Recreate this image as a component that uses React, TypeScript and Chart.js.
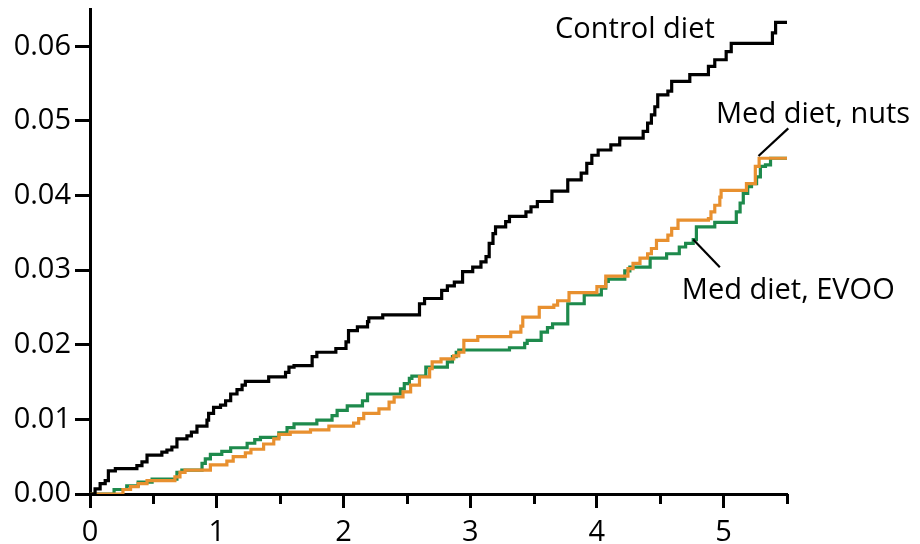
import React, { useEffect, useRef } from "react";
import { Chart, registerables } from "chart.js";

Chart.register(...registerables);

// [years, cumulative incidence] at each step
const controlSteps: [number, number][] = [
  [0, 0], [0.04, 0.0007], [0.08, 0.0014], [0.12, 0.0018], [0.145, 0.0031], [0.2, 0.0034],
  [0.37, 0.0038], [0.41, 0.0043], [0.45, 0.0052], [0.567, 0.0056], [0.607, 0.0059], [0.646, 0.0063],
  [0.686, 0.0074], [0.765, 0.0078], [0.8, 0.0083], [0.844, 0.0091], [0.923, 0.0099], [0.936, 0.0108],
  [0.975, 0.0116], [1.03, 0.0119], [1.07, 0.0125], [1.11, 0.0134], [1.16, 0.014], [1.2, 0.0146],
  [1.226, 0.0151], [1.41, 0.0157], [1.543, 0.0163], [1.57, 0.017], [1.61, 0.0172], [1.753, 0.0184],
  [1.79, 0.019], [1.94, 0.0195], [2.02, 0.0204], [2.04, 0.0219], [2.11, 0.0224], [2.19, 0.0231],
  [2.2, 0.0236], [2.31, 0.024], [2.6, 0.0255], [2.64, 0.0262], [2.775, 0.0273], [2.82, 0.0279],
  [2.875, 0.0284], [2.94, 0.0298], [3.02, 0.0304], [3.085, 0.0311], [3.125, 0.0318], [3.15, 0.0336],
  [3.18, 0.0349], [3.2, 0.0358], [3.28, 0.0365], [3.31, 0.0372], [3.44, 0.0378], [3.48, 0.0385],
  [3.53, 0.0392], [3.645, 0.0406], [3.77, 0.0421], [3.876, 0.043], [3.92, 0.0443], [3.96, 0.0454],
  [4.01, 0.0461], [4.11, 0.0468], [4.18, 0.0477], [4.365, 0.0486], [4.4, 0.0497], [4.43, 0.0508],
  [4.457, 0.0519], [4.48, 0.0535], [4.56, 0.054], [4.59, 0.0553], [4.733, 0.0562], [4.88, 0.0573],
  [4.93, 0.0582], [5.02, 0.0593], [5.06, 0.0604], [5.385, 0.0618], [5.41, 0.0632], [5.5, 0.0632],
];

const nutsSteps: [number, number][] = [
  [0, 0], [0.26, 0.0006], [0.32, 0.001], [0.38, 0.0014], [0.45, 0.0018], [0.67, 0.0023],
  [0.71, 0.0029], [0.75, 0.0032], [0.95, 0.0039], [1.08, 0.0044], [1.13, 0.005], [1.226, 0.0055],
  [1.27, 0.006], [1.37, 0.0067], [1.45, 0.0074], [1.49, 0.008], [1.58, 0.0083], [1.74, 0.0086],
  [1.885, 0.0091], [2.08, 0.0095], [2.12, 0.0101], [2.16, 0.0108], [2.28, 0.0114], [2.36, 0.0123],
  [2.4, 0.013], [2.47, 0.0137], [2.53, 0.0146], [2.6, 0.0157], [2.68, 0.0168], [2.7, 0.0177],
  [2.77, 0.0181], [2.87, 0.0185], [2.91, 0.019], [2.95, 0.0206], [3.06, 0.0211], [3.32, 0.0217],
  [3.4, 0.0225], [3.415, 0.0237], [3.545, 0.025], [3.66, 0.0253], [3.69, 0.0259], [3.78, 0.027],
  [4.0, 0.0278], [4.07, 0.0292], [4.245, 0.0302], [4.285, 0.0309], [4.34, 0.0316], [4.4, 0.0322],
  [4.43, 0.0329], [4.47, 0.034], [4.56, 0.0347], [4.59, 0.0356], [4.64, 0.0367], [4.88, 0.0369],
  [4.9, 0.0378], [4.93, 0.0387], [4.97, 0.0398], [4.98, 0.0407], [5.18, 0.0416], [5.25, 0.0439],
  [5.28, 0.045], [5.5, 0.045],
];

const evooSteps: [number, number][] = [
  [0, 0], [0.19, 0.0006], [0.29, 0.0011], [0.38, 0.0016], [0.49, 0.002], [0.686, 0.0029],
  [0.725, 0.0032], [0.884, 0.0041], [0.91, 0.0047], [0.95, 0.0053], [1.04, 0.0057], [1.11, 0.0062],
  [1.24, 0.0068], [1.3, 0.0073], [1.345, 0.0076], [1.49, 0.0082], [1.555, 0.0089], [1.61, 0.0094],
  [1.79, 0.0099], [1.91, 0.0105], [1.95, 0.0112], [2.03, 0.0118], [2.15, 0.0125], [2.19, 0.0134],
  [2.45, 0.0141], [2.48, 0.0148], [2.52, 0.0155], [2.54, 0.0158], [2.65, 0.017], [2.82, 0.0177],
  [2.86, 0.0184], [2.89, 0.019], [2.91, 0.0193], [3.31, 0.0196], [3.43, 0.0202], [3.45, 0.0206],
  [3.56, 0.0217], [3.61, 0.0223], [3.65, 0.0228], [3.77, 0.0255], [3.9, 0.0267], [4.035, 0.0276],
  [4.07, 0.0285], [4.09, 0.0288], [4.22, 0.0299], [4.26, 0.0304], [4.42, 0.0316], [4.55, 0.0322],
  [4.65, 0.0331], [4.7, 0.0336], [4.76, 0.0341], [4.785, 0.0358], [4.93, 0.0364], [5.1, 0.0378],
  [5.13, 0.039], [5.155, 0.0403], [5.19, 0.0412], [5.22, 0.0416], [5.26, 0.0425], [5.29, 0.0439],
  [5.33, 0.0441], [5.37, 0.045], [5.5, 0.045],
];

const seriesNames = ["Control diet", "Med diet, nuts", "Med diet, EVOO"];
const seriesColors = ["#000000", "#e8902f", "#1e8a4c"];
const xTicks = [0, 0.5, 1, 1.5, 2, 2.5, 3, 3.5, 4, 4.5, 5, 5.5];
const yTicks = [0, 0.01, 0.02, 0.03, 0.04, 0.05, 0.06];

// label anchors in data units: [x, y]
const labelPositions: [number, number][] = [[3.67, 0.0611], [4.94, 0.0497], [4.67, 0.0262]];
// leader lines: [x1, y1, x2, y2]
const leaderLines: [number, number, number, number][] = [
  [5.51, 0.049, 5.275, 0.0453],
  [4.97, 0.0304, 4.76, 0.0341],
];

const FONT = '"Open Sans", "Noto Sans", sans-serif';

const annotate = {
  id: "annotate",
  afterDraw(chart: any) {
    const { ctx, scales } = chart;
    const xs = scales.x;
    const ys = scales.y;
    ctx.save();
    // minor x ticks
    ctx.strokeStyle = "#000";
    ctx.lineWidth = 3;
    const bottom = chart.chartArea.bottom;
    xTicks.forEach((v) => {
      if (!Number.isInteger(v)) {
        const px = Math.round(xs.getPixelForValue(v)) + 0.5;
        ctx.beginPath();
        ctx.moveTo(px, bottom);
        ctx.lineTo(px, bottom + 10);
        ctx.stroke();
      }
    });
    // leader lines
    ctx.lineWidth = 2.2;
    leaderLines.forEach(([x1, y1, x2, y2]) => {
      ctx.beginPath();
      ctx.moveTo(xs.getPixelForValue(x1), ys.getPixelForValue(y1));
      ctx.lineTo(xs.getPixelForValue(x2), ys.getPixelForValue(y2));
      ctx.stroke();
    });
    // labels
    ctx.fillStyle = "#000";
    ctx.font = `29px ${FONT}`;
    ctx.textAlign = "left";
    ctx.textBaseline = "alphabetic";
    seriesNames.forEach((name, i) => {
      const [lx, ly] = labelPositions[i];
      ctx.fillText(name, xs.getPixelForValue(lx), ys.getPixelForValue(ly));
    });
    ctx.restore();
  },
};

export default function App() {
  const ref = useRef<HTMLCanvasElement | null>(null);
  useEffect(() => {
    document.body.style.margin = "0";
    const all = [controlSteps, nutsSteps, evooSteps];
    const chart = new Chart(ref.current as HTMLCanvasElement, {
      type: "line",
      data: {
        datasets: all.map((steps, i) => ({
          label: seriesNames[i],
          data: steps.map(([x, y]) => ({ x, y })),
          borderColor: seriesColors[i],
          borderWidth: 3.2,
          pointRadius: 0,
          stepped: true,
          fill: false,
          borderJoinStyle: "miter",
        })),
      } as any,
      options: {
        animation: false,
        responsive: false,
        devicePixelRatio: 1,
        layout: { padding: { top: 9, right: 133, left: 0, bottom: 0 } },
        plugins: { legend: { display: false }, tooltip: { enabled: false } },
        scales: {
          x: {
            type: "linear",
            min: 0,
            max: 5.5,
            afterBuildTicks: (s: any) => {
              s.ticks = xTicks.map((v) => ({ value: v }));
            },
            afterFit: (s: any) => {
              s.height = 50;
              s.paddingLeft = 0;
              s.paddingRight = 0;
            },
            ticks: {
              autoSkip: false,
              maxRotation: 0,
              padding: 7,
              color: "#000",
              font: { family: FONT, size: 29 },
              callback: (v: any) => (Number.isInteger(v) ? String(v) : ""),
            },
            grid: {
              drawOnChartArea: false,
              drawTicks: true,
              tickLength: 14,
              tickWidth: 3,
              tickColor: (c: any) =>
                c.tick && Number.isInteger(c.tick.value) ? "#000" : "rgba(0,0,0,0)",
            },
            border: { color: "#000", width: 3 },
          },
          y: {
            type: "linear",
            min: 0,
            max: 0.065,
            afterBuildTicks: (s: any) => {
              s.ticks = yTicks.map((v) => ({ value: v }));
            },
            afterFit: (s: any) => {
              s.width = 90;
              s.paddingTop = 0;
              s.paddingBottom = 0;
            },
            ticks: {
              padding: 4,
              color: "#000",
              font: { family: FONT, size: 29 },
              callback: (v: any) => Number(v).toFixed(2),
            },
            grid: {
              drawOnChartArea: false,
              drawTicks: true,
              tickLength: 15,
              tickWidth: 3,
              tickColor: "#000",
            },
            border: { color: "#000", width: 3 },
          },
        },
      },
      plugins: [annotate],
    });
    return () => chart.destroy();
  }, []);
  return <canvas ref={ref} width={920} height={544} style={{ display: "block" }} />;
}
